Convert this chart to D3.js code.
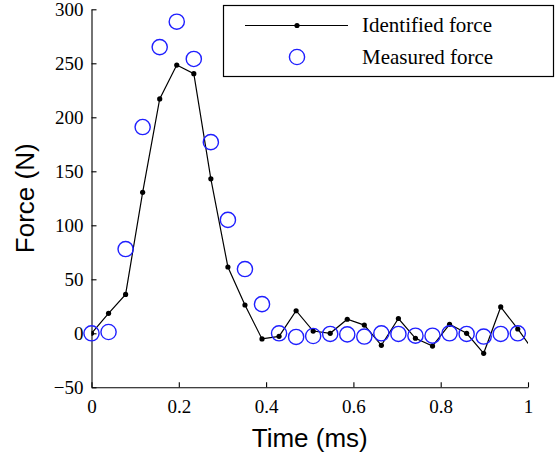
<!DOCTYPE html>
<html>
<head>
<meta charset="utf-8">
<style>
  body { margin: 0; background: #fff; }
  svg text { fill: #000; }
</style>
</head>
<body>
<svg width="556" height="456"></svg>
<script src="https://d3js.org/d3.v7.min.js"></script>
<script>
// sample step: 1/25.6 ms
var dt = 1 / 25.6;

// identified force (black line + dots)
var identified = [0, 18.5, 36, 130.5, 217, 248.4, 240.4, 143, 61.4, 26.2,
  -5.2, -2.8, 20.9, 2.1, 0, 13, 7.6, -11.1, 13.7, -4.6,
  -11.8, 8.3, 0, -18.5, 24.4, 4, -18];
// measured force (blue circles)
var measured = [0, 1.2, 78, 191, 265, 288.5, 254, 177, 105, 59.5,
  27, 0, -3.4, -2.5, -0.6, -1, -3, 0, -0.6, -2.2,
  -2.2, 0, -0.6, -3, -0.6, 0];

var xTicks = [0, 0.2, 0.4, 0.6, 0.8, 1];
var yTicks = [-50, 0, 50, 100, 150, 200, 250, 300];
var legendLabels = ["Identified force", "Measured force"];

var svg = d3.select("svg");
var mLeft = 91.5, mTop = 9.3, w = 436.5, h = 378;

var x = d3.scaleLinear().domain([0, 1]).range([mLeft, mLeft + w]);
var y = d3.scaleLinear().domain([-50, 300]).range([mTop + h, mTop]);

svg.append("clipPath").attr("id", "clip")
  .append("rect").attr("x", mLeft).attr("y", mTop).attr("width", w).attr("height", h);

// axes, ticks pointing inward
var xAxis = svg.append("g")
  .attr("transform", "translate(0," + (mTop + h) + ")")
  .call(d3.axisBottom(x).tickValues(xTicks).tickSizeInner(-5).tickSizeOuter(0)
    .tickPadding(12).tickFormat(function(d) { return d3.format("")(d); }));
var yAxis = svg.append("g")
  .attr("transform", "translate(" + mLeft + ",0)")
  .call(d3.axisLeft(y).tickValues(yTicks).tickSizeInner(-5).tickSizeOuter(0)
    .tickPadding(8).tickFormat(function(d) { return d < 0 ? "\u2212" + (-d) : d; }));

[xAxis, yAxis].forEach(function(g) {
  g.attr("font-family", null);
  g.selectAll("text").style("font-family", "'Liberation Serif', 'Times New Roman', serif")
    .style("font-size", "19px").attr("fill", "#000");
  g.selectAll("line, path").attr("stroke", "#000").attr("stroke-width", 1.1);
});

// axis titles
svg.append("text")
  .attr("x", x(0.5)).attr("y", 447)
  .attr("text-anchor", "middle")
  .style("font-family", "'Liberation Sans', Arial, sans-serif")
  .style("font-size", "26px")
  .text("Time (ms)");
svg.append("text")
  .attr("transform", "translate(34," + y(125) + ") rotate(-90)")
  .attr("text-anchor", "middle")
  .style("font-family", "'Liberation Sans', Arial, sans-serif")
  .style("font-size", "26px")
  .text("Force (N)");

var plot = svg.append("g").attr("clip-path", "url(#clip)");

// identified force line
var line = d3.line()
  .x(function(d, i) { return x(i * dt); })
  .y(function(d) { return y(d); });

plot.append("path")
  .datum(identified)
  .attr("d", line)
  .attr("fill", "none")
  .attr("stroke", "#000")
  .attr("stroke-width", 1.2);

plot.selectAll("circle.dot")
  .data(identified)
  .enter().append("circle")
  .attr("class", "dot")
  .attr("cx", function(d, i) { return x(i * dt); })
  .attr("cy", function(d) { return y(d); })
  .attr("r", 2.6)
  .attr("fill", "#000");

// measured force circles
svg.selectAll("circle.meas")
  .data(measured)
  .enter().append("circle")
  .attr("class", "meas")
  .attr("cx", function(d, i) { return x(i * dt); })
  .attr("cy", function(d) { return y(d); })
  .attr("r", 7.6)
  .attr("fill", "none")
  .attr("stroke", "#1f1fff")
  .attr("stroke-width", 1.4);

// legend
var lg = svg.append("g");
lg.append("rect")
  .attr("x", 223.5).attr("y", 5.5).attr("width", 330).attr("height", 71)
  .attr("fill", "#fff").attr("stroke", "#000").attr("stroke-width", 1.2);
lg.append("line")
  .attr("x1", 245).attr("x2", 348).attr("y1", 25.5).attr("y2", 25.5)
  .attr("stroke", "#000").attr("stroke-width", 1.2);
lg.append("circle").attr("cx", 297).attr("cy", 25.5).attr("r", 2.6).attr("fill", "#000");
lg.append("circle").attr("cx", 297).attr("cy", 57).attr("r", 7.6)
  .attr("fill", "none").attr("stroke", "#1f1fff").attr("stroke-width", 1.4);
lg.selectAll("text")
  .data(legendLabels)
  .enter().append("text")
  .attr("x", 362)
  .attr("y", function(d, i) { return i === 0 ? 32 : 64; })
  .style("font-family", "'Liberation Serif', 'Times New Roman', serif")
  .style("font-size", "21px")
  .text(function(d) { return d; });
</script>
</body>
</html>
